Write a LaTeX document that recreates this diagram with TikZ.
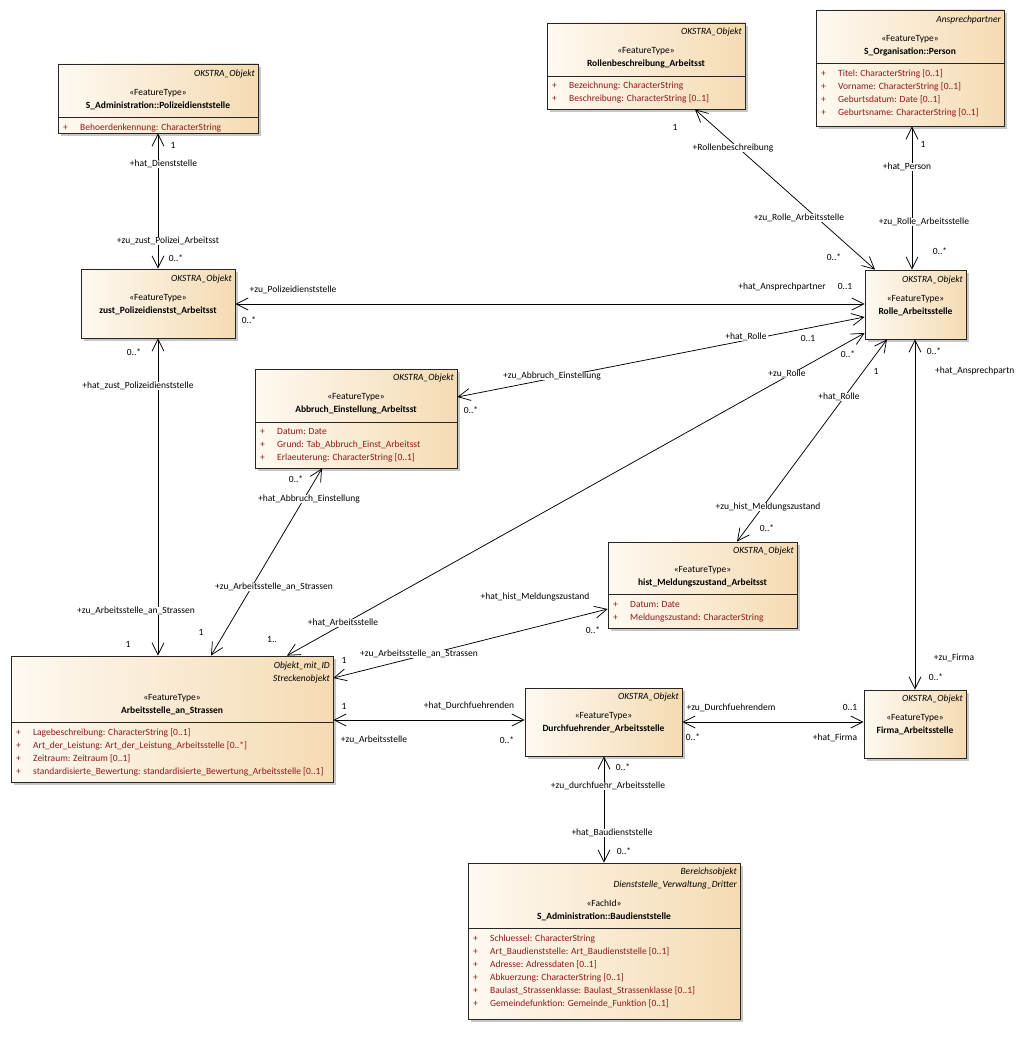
\documentclass[tikz,border=0pt]{standalone}
\usepackage{fontspec}
\setmainfont{Carlito}
\usetikzlibrary{arrows.meta,shadows}
\definecolor{boxleft}{HTML}{FEF9F1}
\definecolor{boxright}{HTML}{F5DBB3}
\definecolor{attrred}{HTML}{8E1A1A}
\newcommand\fsz{\fontsize{9.5}{11}\selectfont}
\newcommand\attrline[3]{\node[atx] at ({#1+5},#2) {+}; \node[atx] at ({#1+22},#2) {#3};}
\begin{document}
\catcode`\_=12
\begin{tikzpicture}[x=1pt,y=-1pt,font=\fsz,
  cls/.style={draw=black!85,line width=0.8pt,left color=boxleft,right color=boxright,inner sep=0pt,
    drop shadow={shadow xshift=3pt,shadow yshift=-3pt,fill=black!22,opacity=1}},
  txt/.style={inner sep=0pt,text height=6.8pt,text depth=2pt},
  hdr/.style={txt,anchor=east,font=\fsz\itshape},
  stereo/.style={txt},
  cname/.style={txt,font=\fsz\bfseries},
  atx/.style={txt,anchor=west,text=attrred},
  sepline/.style={draw=black!85,line width=0.8pt},
  assoc/.style={line width=0.75pt,{Straight Barb[length=12pt,width=12pt,line width=0.75pt]}-{Straight Barb[length=12pt,width=12pt,line width=0.75pt]}},
  role/.style={txt,fill=white,inner xsep=1pt},
  mult/.style={txt}]
\useasboundingbox (0,0) rectangle (1015,1049);
\fill[white] (0,0) rectangle (1015,1049);

% ---------- classes ----------
\node[cls,minimum width=200pt,minimum height=69pt] (poli) at (158,98.5) {};
\draw[sepline] (poli.west |- 0,117) -- (poli.east |- 0,117);
\node[hdr] at (255,74) {OKSTRA_Objekt};
\node[stereo] at (158,93) {«FeatureType»};
\node[cname] at (158,106) {S_Administration::Polizeidienststelle};
\attrline{58}{128}{Behoerdenkennung: CharacterString}

\node[cls,minimum width=154pt,minimum height=69pt] (zust) at (158,303.5) {};
\node[hdr] at (232,279) {OKSTRA_Objekt};
\node[stereo] at (158,298) {«FeatureType»};
\node[cname] at (158,311) {zust_Polizeidienstst_Arbeitsst};

\node[cls,minimum width=198pt,minimum height=86pt] (rollen) at (646,66) {};
\draw[sepline] (rollen.west |- 0,76) -- (rollen.east |- 0,76);
\node[hdr] at (742,32) {OKSTRA_Objekt};
\node[stereo] at (646,51) {«FeatureType»};
\node[cname] at (646,64) {Rollenbeschreibung_Arbeitsst};
\attrline{547}{86}{Bezeichnung: CharacterString}
\attrline{547}{99}{Beschreibung: CharacterString [0..1]}

\node[cls,minimum width=188pt,minimum height=116pt] (person) at (910,68) {};
\draw[sepline] (person.west |- 0,63) -- (person.east |- 0,63);
\node[hdr] at (1001,20) {Ansprechpartner};
\node[stereo] at (910,39) {«FeatureType»};
\node[cname] at (910,52) {S_Organisation::Person};
\attrline{816}{74}{Titel: CharacterString [0..1]}
\attrline{816}{87}{Vorname: CharacterString [0..1]}
\attrline{816}{100}{Geburtsdatum: Date [0..1]}
\attrline{816}{113}{Geburtsname: CharacterString [0..1]}

\node[cls,minimum width=101pt,minimum height=69pt] (rolle) at (915.5,304.5) {};
\node[hdr] at (963,280) {OKSTRA_Objekt};
\node[stereo] at (915.5,299) {«FeatureType»};
\node[cname] at (915.5,312) {Rolle_Arbeitsstelle};

\node[cls,minimum width=202pt,minimum height=99pt] (abbruch) at (356,418.5) {};
\draw[sepline] (abbruch.west |- 0,422) -- (abbruch.east |- 0,422);
\node[hdr] at (454,378) {OKSTRA_Objekt};
\node[stereo] at (356,397) {«FeatureType»};
\node[cname] at (356,410) {Abbruch_Einstellung_Arbeitsst};
\attrline{255}{432}{Datum: Date}
\attrline{255}{445}{Grund: Tab_Abbruch_Einst_Arbeitsst}
\attrline{255}{458}{Erlaeuterung: CharacterString [0..1]}

\node[cls,minimum width=189pt,minimum height=86pt] (hist) at (702.5,585) {};
\draw[sepline] (hist.west |- 0,594) -- (hist.east |- 0,594);
\node[hdr] at (794,551) {OKSTRA_Objekt};
\node[stereo] at (702.5,570) {«FeatureType»};
\node[cname] at (702.5,583) {hist_Meldungszustand_Arbeitsst};
\attrline{608}{605}{Datum: Date}
\attrline{608}{618}{Meldungszustand: CharacterString}

\node[cls,minimum width=322pt,minimum height=126pt] (arbeit) at (172,719) {};
\draw[sepline] (arbeit.west |- 0,722) -- (arbeit.east |- 0,722);
\node[hdr] at (330,666) {Objekt_mit_ID};
\node[hdr] at (330,679) {Streckenobjekt};
\node[stereo] at (172,698) {«FeatureType»};
\node[cname] at (172,711) {Arbeitsstelle_an_Strassen};
\attrline{11}{733}{Lagebeschreibung: CharacterString [0..1]}
\attrline{11}{746}{Art_der_Leistung: Art_der_Leistung_Arbeitsstelle [0..*]}
\attrline{11}{759}{Zeitraum: Zeitraum [0..1]}
\attrline{11}{772}{standardisierte_Bewertung: standardisierte_Bewertung_Arbeitsstelle [0..1]}

\node[cls,minimum width=157pt,minimum height=68pt] (durch) at (603.5,722) {};
\node[hdr] at (679,697) {OKSTRA_Objekt};
\node[stereo] at (603.5,716) {«FeatureType»};
\node[cname] at (603.5,729) {Durchfuehrender_Arbeitsstelle};

\node[cls,minimum width=102pt,minimum height=68pt] (firma) at (915,724) {};
\node[hdr] at (963,699) {OKSTRA_Objekt};
\node[stereo] at (915,718) {«FeatureType»};
\node[cname] at (915,731) {Firma_Arbeitsstelle};

\node[cls,minimum width=272pt,minimum height=156pt] (baud) at (604,941) {};
\draw[sepline] (baud.west |- 0,928) -- (baud.east |- 0,928);
\node[hdr] at (737,872) {Bereichsobjekt};
\node[hdr] at (737,885) {Dienststelle_Verwaltung_Dritter};
\node[stereo] at (604,904) {«FachId»};
\node[cname] at (604,917) {S_Administration::Baudienststelle};
\attrline{468}{939}{Schluessel: CharacterString}
\attrline{468}{952}{Art_Baudienststelle: Art_Baudienststelle [0..1]}
\attrline{468}{965}{Adresse: Adressdaten [0..1]}
\attrline{468}{978}{Abkuerzung: CharacterString [0..1]}
\attrline{468}{991}{Baulast_Strassenklasse: Baulast_Strassenklasse [0..1]}
\attrline{468}{1004}{Gemeindefunktion: Gemeinde_Funktion [0..1]}

% ---------- associations ----------
\draw[assoc] (poli.south -| 158,0) -- (zust.north -| 158,0);
\draw[assoc] (zust.east |- 0,304) -- (rolle.west |- 0,304);
\draw[assoc] (zust.south -| 158,0) -- (arbeit.north -| 158,0);
\draw[assoc] (rollen.south -| 695,0) -- (rolle.north -| 875,0);
\draw[assoc] (person.south -| 912,0) -- (rolle.north -| 912,0);
\draw[assoc] (rolle.west |- 0,317) -- (abbruch.east |- 0,397);
\draw[assoc] (rolle.west |- 0,333) -- (arbeit.north -| 287,0);
\draw[assoc] (rolle.south -| 887,0) -- (hist.north -| 737,0);
\draw[assoc] (rolle.south -| 915,0) -- (firma.north -| 915,0);
\draw[assoc] (abbruch.south -| 322,0) -- (arbeit.north -| 211,0);
\draw[assoc] (hist.west |- 0,609) -- (arbeit.east |- 0,678);
\draw[assoc] (arbeit.east |- 0,720) -- (durch.west |- 0,720);
\draw[assoc] (durch.east |- 0,722) -- (firma.west |- 0,722);
\draw[assoc] (durch.south -| 604,0) -- (baud.north -| 604,0);

% ---------- labels ----------
% A
\node[mult] at (173,146) {1};
\node[role] at (163.5,164) {+hat_Dienststelle};
\node[role] at (168,241) {+zu_zust_Polizei_Arbeitsst};
\node[mult] at (176,259) {0..*};
% B
\node[role] at (293,290) {+zu_Polizeidienststelle};
\node[mult] at (249,321) {0..*};
\node[role] at (782,287) {+hat_Ansprechpartner};
\node[mult] at (845,287) {0..1};
% C
\node[mult] at (134,353) {0..*};
\node[role] at (138,386) {+hat_zust_Polizeidienststelle};
\node[role] at (136,611) {+zu_Arbeitsstelle_an_Strassen};
\node[mult] at (128,645) {1};
% D
\node[mult] at (675,128) {1};
\node[role] at (733,148) {+Rollenbeschreibung};
\node[role] at (799,218) {+zu_Rolle_Arbeitsstelle};
\node[mult] at (834,258) {0..*};
% E
\node[mult] at (923,145) {1};
\node[role] at (907,167) {+hat_Person};
\node[role] at (924,222) {+zu_Rolle_Arbeitsstelle};
\node[mult] at (940,252) {0..*};
% F
\node[role] at (746,337) {+hat_Rolle};
\node[mult] at (808,339) {0..1};
\node[role] at (552,376) {+zu_Abbruch_Einstellung};
\node[mult] at (471,411) {0..*};
% G
\node[role] at (787,374) {+zu_Rolle};
\node[mult] at (848,355) {0..*};
\node[role] at (343,623) {+hat_Arbeitsstelle};
\node[mult] at (272,640) {1..};
% H
\node[mult] at (876,372) {1};
\node[role] at (839,397) {+hat_Rolle};
\node[role] at (768,507) {+zu_hist_Meldungszustand};
\node[mult] at (767,529) {0..*};
% I
\node[mult] at (934,352) {0..*};
\node[role,anchor=west] at (934,371) {+hat_Ansprechpartn};
\node[role] at (954,658) {+zu_Firma};
\node[mult] at (936,678) {0..*};
% J
\node[mult] at (296,480) {0..*};
\node[role] at (309,499) {+hat_Abbruch_Einstellung};
\node[role] at (274,587) {+zu_Arbeitsstelle_an_Strassen};
\node[mult] at (201,633) {1};
% K
\node[role] at (535,597) {+hat_hist_Meldungszustand};
\node[mult] at (593,631) {0..*};
\node[role] at (419,654) {+zu_Arbeitsstelle_an_Strassen};
\node[mult] at (344,661) {1};
% L
\node[mult] at (344,707) {1};
\node[role] at (469,706) {+hat_Durchfuehrenden};
\node[role] at (374,740) {+zu_Arbeitsstelle};
\node[mult] at (507,741) {0..*};
% M
\node[role] at (731,708) {+zu_Durchfuehrendem};
\node[mult] at (850,708) {0..1};
\node[mult] at (693,738) {0..*};
\node[role] at (835,738) {+hat_Firma};
% N
\node[mult] at (623,768) {0..*};
\node[role] at (608,786) {+zu_durchfuehr_Arbeitsstelle};
\node[role] at (612,833) {+hat_Baudienststelle};
\node[mult] at (624,852) {0..*};
\end{tikzpicture}
\end{document}
